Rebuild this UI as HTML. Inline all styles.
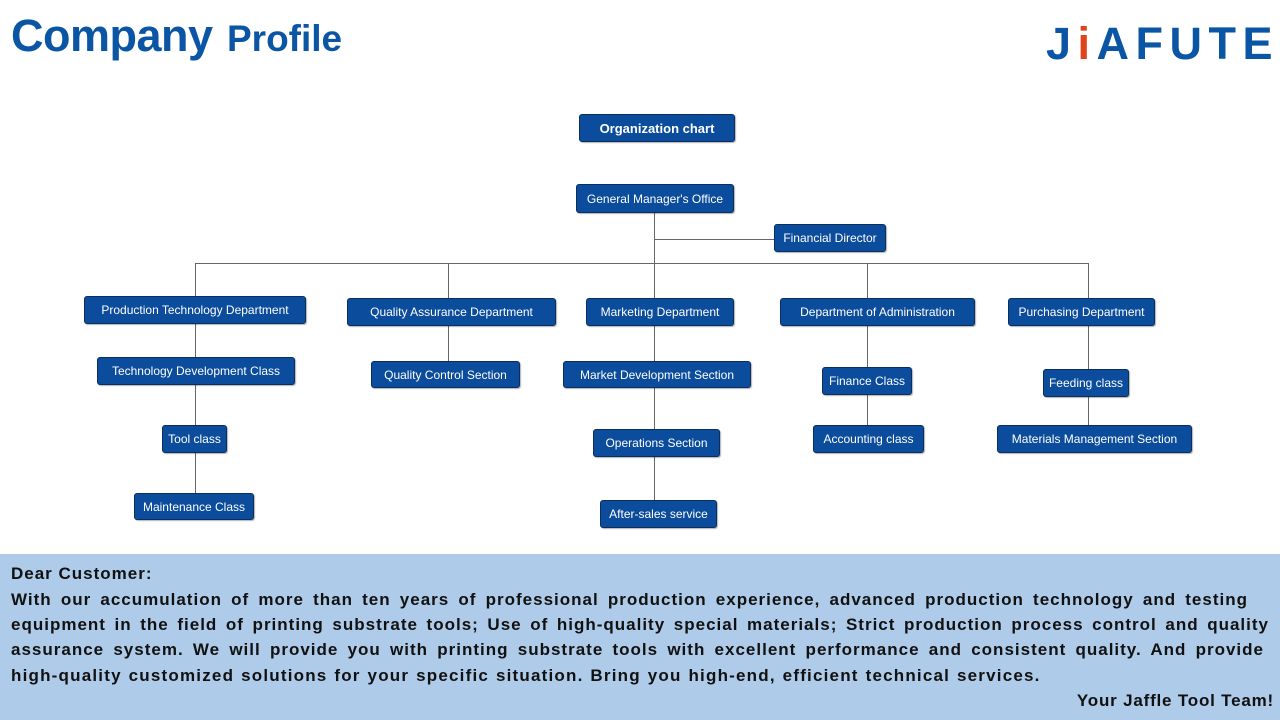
<!DOCTYPE html>
<html><head><meta charset="utf-8"><style>
*{margin:0;padding:0;box-sizing:border-box}
body{width:1280px;height:720px;background:#fff;position:relative;overflow:hidden;font-family:"Liberation Sans",sans-serif}
.b{position:absolute;background:#0b4c9c;border:1.5px solid #0a2f5e;border-radius:3px;color:#fff;font-size:12px;display:flex;align-items:center;justify-content:center;white-space:nowrap;box-shadow:1px 1px 1px rgba(0,0,0,.3)}
.l{position:absolute;background:#666}
.h{height:1px}.v{width:1px}
#panel{position:absolute;left:0;top:554px;width:1280px;height:166px;background:#aecbe9}
.t{position:absolute;left:11px;font-weight:bold;font-size:17px;color:#111;white-space:nowrap;letter-spacing:0.15px}
.j{width:1258px;text-align:justify;text-align-last:justify;letter-spacing:1px;word-spacing:1px}
</style></head><body>
<div style="position:absolute;left:11px;top:10px;color:#0b56a4;font-weight:bold;white-space:nowrap;font-size:45px;letter-spacing:-0.5px">Company</div>
<div style="position:absolute;left:227px;top:18px;color:#0b56a4;font-weight:bold;white-space:nowrap;font-size:37px">Profile</div>
<div style="position:absolute;left:1046px;top:18px;color:#0b56a4;font-weight:bold;font-size:45px;letter-spacing:6.5px;white-space:nowrap;line-height:52px">J<span style="color:#e0441c">i</span>AFUTE</div>

<div class="b" style="left:579px;top:114px;width:156px;height:28px;font-weight:bold;font-size:13px">Organization chart</div>

<div class="l v" style="left:654px;top:213px;height:85px"></div>
<div class="l h" style="left:654px;top:239px;width:120px"></div>
<div class="l h" style="left:195px;top:263px;width:893px"></div>
<div class="l v" style="left:195px;top:263px;height:230px"></div>
<div class="l v" style="left:448px;top:263px;height:98px"></div>
<div class="l v" style="left:654px;top:326px;height:174px"></div>
<div class="l v" style="left:867px;top:263px;height:162px"></div>
<div class="l v" style="left:1088px;top:263px;height:162px"></div>

<div class="b" style="left:576px;top:184px;width:158px;height:29px">General Manager's Office</div>
<div class="b" style="left:774px;top:224px;width:112px;height:28px">Financial Director</div>
<div class="b" style="left:84px;top:296px;width:222px;height:28px">Production Technology Department</div>
<div class="b" style="left:347px;top:298px;width:209px;height:28px">Quality Assurance Department</div>
<div class="b" style="left:586px;top:298px;width:148px;height:28px">Marketing Department</div>
<div class="b" style="left:780px;top:298px;width:195px;height:28px">Department of Administration</div>
<div class="b" style="left:1008px;top:298px;width:147px;height:28px">Purchasing Department</div>
<div class="b" style="left:97px;top:357px;width:198px;height:28px">Technology Development Class</div>
<div class="b" style="left:371px;top:361px;width:149px;height:27px">Quality Control Section</div>
<div class="b" style="left:563px;top:361px;width:188px;height:27px">Market Development Section</div>
<div class="b" style="left:822px;top:367px;width:90px;height:28px">Finance Class</div>
<div class="b" style="left:1043px;top:369px;width:86px;height:28px">Feeding class</div>
<div class="b" style="left:162px;top:425px;width:65px;height:28px">Tool class</div>
<div class="b" style="left:593px;top:429px;width:127px;height:28px">Operations Section</div>
<div class="b" style="left:813px;top:425px;width:111px;height:28px">Accounting class</div>
<div class="b" style="left:997px;top:425px;width:195px;height:28px">Materials Management Section</div>
<div class="b" style="left:134px;top:493px;width:120px;height:27px">Maintenance Class</div>
<div class="b" style="left:600px;top:500px;width:117px;height:28px">After-sales service</div>

<div id="panel"></div>
<div class="t" style="top:564px;letter-spacing:1px">Dear Customer:</div>
<div class="t j" style="top:590px;width:1237px">With our accumulation of more than ten years of professional production experience, advanced production technology and testing</div>
<div class="t j" style="top:615px">equipment in the field of printing substrate tools; Use of high-quality special materials; Strict production process control and quality</div>
<div class="t j" style="top:640px;width:1253px">assurance system. We will provide you with printing substrate tools with excellent performance and consistent quality. And provide</div>
<div class="t" style="top:666px;letter-spacing:1.2px;word-spacing:1px">high-quality customized solutions for your specific situation. Bring you high-end, efficient technical services.</div>
<div class="t" style="top:691px;left:auto;right:6px;letter-spacing:0.8px">Your Jaffle Tool Team!</div>
</body></html>
